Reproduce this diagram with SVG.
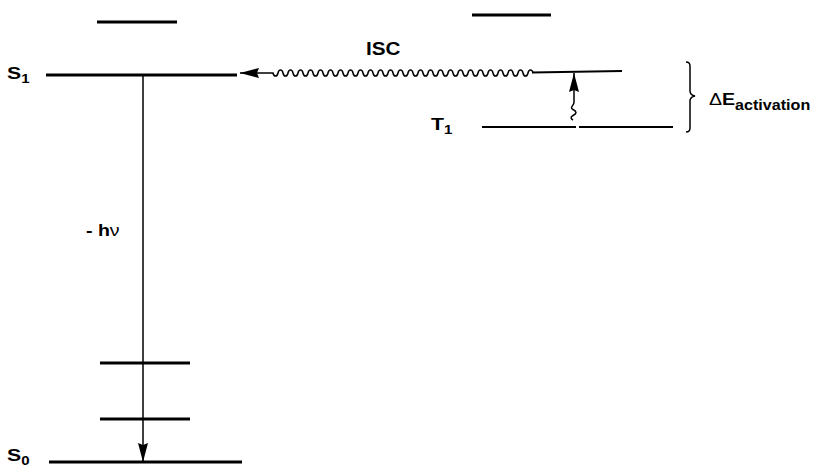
<svg xmlns="http://www.w3.org/2000/svg" width="818" height="468" viewBox="0 0 818 468">
<style>
.lvl{stroke:#000;stroke-width:3;fill:none}
.thin{stroke:#000;stroke-width:1.5;fill:none}
.tl{stroke:#000;stroke-width:2;fill:none}
text{font-family:"Liberation Sans",Arial,sans-serif;font-weight:bold;fill:#000}
</style>
<defs>
<marker id="ah" markerWidth="20" markerHeight="11" refX="19" refY="5.5" orient="auto" markerUnits="userSpaceOnUse">
<path d="M0,0.5 L19,5.5 L0,10.5 L2,5.5 Z" fill="#000"/>
</marker>
</defs>
<rect width="818" height="468" fill="#fff"/>
<g id="S1">
<line class="lvl" x1="46" y1="75" x2="237" y2="75"/>
<text transform="translate(7,79) scale(1.25,1)" font-size="17">S<tspan font-size="12" dy="4">1</tspan></text>
</g>
<g id="S1-upper"><line class="lvl" x1="97" y1="22" x2="177" y2="22"/></g>
<g id="S0">
<line class="lvl" x1="49" y1="462" x2="242" y2="462"/>
<text transform="translate(7,461) scale(1.25,1)" font-size="17">S<tspan font-size="12" dy="4">0</tspan></text>
</g>
<g id="S0-vib1"><line class="lvl" x1="100" y1="363" x2="190" y2="363"/></g>
<g id="S0-vib2"><line class="lvl" x1="100" y1="419" x2="190" y2="419"/></g>
<g id="T1">
<line class="tl" x1="482" y1="127" x2="576" y2="127"/>
<line class="tl" x1="579" y1="127" x2="673" y2="127"/>
<text transform="translate(431,130) scale(1.25,1)" font-size="17">T<tspan font-size="12" dy="4">1</tspan></text>
</g>
<g id="T-upper"><line class="lvl" x1="472" y1="15" x2="551" y2="15"/></g>
<g id="T1-excited"><line class="tl" x1="532" y1="72.5" x2="622" y2="71"/></g>
<g id="activation-brace">
<path class="thin" d="M686,62 q4,0 4,4 V91 q0,4 5,5 q-5,1 -5,5 V128 q0,4 -4,4"/>
<text transform="translate(709,105) scale(1.15,1)" font-size="17"><tspan font-weight="normal">Δ</tspan>E<tspan font-size="14" dy="5">activation</tspan></text>
</g>
<g id="connectors">
<line class="thin" x1="143" y1="75" x2="143" y2="462" marker-end="url(#ah)"/>
<path class="thin" d="M533,73 c-0.8,-4 -4.2,-4 -5,0 c-0.8,4 -4.2,4 -5,0 c-0.8,-4 -4.2,-4 -5,0 c-0.8,4 -4.2,4 -5,0 c-0.8,-4 -4.2,-4 -5,0 c-0.8,4 -4.2,4 -5,0 c-0.8,-4 -4.2,-4 -5,0 c-0.8,4 -4.2,4 -5,0 c-0.8,-4 -4.2,-4 -5,0 c-0.8,4 -4.2,4 -5,0 c-0.8,-4 -4.2,-4 -5,0 c-0.8,4 -4.2,4 -5,0 c-0.8,-4 -4.2,-4 -5,0 c-0.8,4 -4.2,4 -5,0 c-0.8,-4 -4.2,-4 -5,0 c-0.8,4 -4.2,4 -5,0 c-0.8,-4 -4.2,-4 -5,0 c-0.8,4 -4.2,4 -5,0 c-0.8,-4 -4.2,-4 -5,0 c-0.8,4 -4.2,4 -5,0 c-0.8,-4 -4.2,-4 -5,0 c-0.8,4 -4.2,4 -5,0 c-0.8,-4 -4.2,-4 -5,0 c-0.8,4 -4.2,4 -5,0 c-0.8,-4 -4.2,-4 -5,0 c-0.8,4 -4.2,4 -5,0 c-0.8,-4 -4.2,-4 -5,0 c-0.8,4 -4.2,4 -5,0 c-0.8,-4 -4.2,-4 -5,0 c-0.8,4 -4.2,4 -5,0 c-0.8,-4 -4.2,-4 -5,0 c-0.8,4 -4.2,4 -5,0 c-0.8,-4 -4.2,-4 -5,0 c-0.8,4 -4.2,4 -5,0 c-0.8,-4 -4.2,-4 -5,0 c-0.8,4 -4.2,4 -5,0 c-0.8,-4 -4.2,-4 -5,0 c-0.8,4 -4.2,4 -5,0 c-0.8,-4 -4.2,-4 -5,0 c-0.8,4 -4.2,4 -5,0 c-0.8,-4 -4.2,-4 -5,0 c-0.8,4 -4.2,4 -5,0 c-0.8,-4 -4.2,-4 -5,0 c-0.8,4 -4.2,4 -5,0 c-0.8,-4 -4.2,-4 -5,0 c-0.8,4 -4.2,4 -5,0 c-0.8,-4 -4.2,-4 -5,0 c-0.8,4 -4.2,4 -5,0 c-0.8,-4 -4.2,-4 -5,0 c-0.8,4 -4.2,4 -5,0 c-0.8,-4 -4.2,-4 -5,0 c-0.8,4 -4.2,4 -5,0 L240,73" marker-end="url(#ah)"/>
<path class="thin" d="M573,120 c-2,-1 -3,-3 0,-4.5 c4,-2 4,-4 0,-6 c-4,-2 1,-4 1,-7 V73" marker-end="url(#ah)"/>
</g>
<text transform="translate(366,55) scale(1.15,1)" font-size="18">ISC</text>
<text transform="translate(86,236) scale(1.15,1)" font-size="17">- h<tspan font-weight="normal">ν</tspan></text>
</svg>
